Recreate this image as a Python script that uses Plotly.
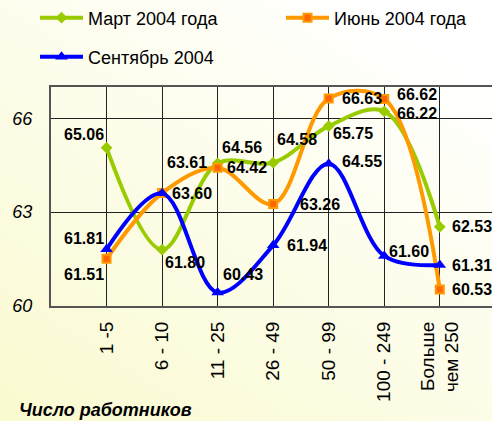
import base64
import plotly.graph_objects as go

categories = ["1 -5", "6 - 10", "11 - 25", "26 - 49", "50 - 99", "100 - 249", "Больше<br>чем 250"]
march = [65.06, 61.80, 64.56, 64.58, 65.75, 66.22, 62.53]
june = [61.51, 63.61, 64.42, 63.26, 66.63, 66.62, 60.53]
sept = [61.81, 63.60, 60.43, 61.94, 64.55, 61.60, 61.31]

# label offsets (px) for each point, per series
march_off = [(-23, 13), (23, -13), (24, 16), (24, 23), (24, -7), (33, -2), (32, 0)]
june_off = [(-23, -16), (25, 31), (29, 0), (47, 0), (33, 0), (33, 4), (32, 0)]
sept_off = [(-23, 11), (30, 0), (25, 18), (34, 0), (33, 2), (25, 4), (32, 0)]

FONT = "Arial, Liberation Sans, sans-serif"

svg = """<svg xmlns='http://www.w3.org/2000/svg' width='492' height='421'>
<defs><linearGradient id='g' x1='0' y1='1' x2='0.75' y2='0'>
<stop offset='0' stop-color='#FAFAD0'/><stop offset='1' stop-color='#FFFFFF'/>
</linearGradient></defs><rect width='492' height='421' fill='url(#g)'/></svg>"""
bg = "data:image/svg+xml;base64," + base64.b64encode(svg.encode()).decode()

x = list(range(len(categories)))
fig = go.Figure()
series = [
    ("Март 2004 года", march, "#99CC00", dict(symbol="diamond", size=9, color="#99CC00"), "legend"),
    ("Июнь 2004 года", june, "#FF9900", dict(symbol="square", size=8, color="#FF6600",
                                           line=dict(color="#FF9900", width=2)), "legend2"),
    ("Сентябрь 2004", sept, "#0000FF", dict(symbol="triangle-up", size=11, color="#0000FF"), "legend3"),
]
for name, vals, col, mk, lg in series:
    fig.add_trace(go.Scatter(x=x, y=vals, name=name, mode="lines+markers",
                             line=dict(color=col, width=4, shape="spline", smoothing=1),
                             marker=mk, legend=lg))

for vals, offs in [(march, march_off), (june, june_off), (sept, sept_off)]:
    for i, v in enumerate(vals):
        fig.add_annotation(x=i, y=v, text=f"{v:.2f}", showarrow=False,
                           xshift=offs[i][0], yshift=offs[i][1],
                           font=dict(family=FONT, size=16, color="black", weight="bold"))

fig.add_annotation(xref="paper", yref="paper", x=(17 - 51) / 441, y=(306 - 410) / 219,
                   xanchor="left", yanchor="middle", showarrow=False,
                   text="<b><i>Число работников</i></b>",
                   font=dict(family=FONT, size=18, color="black"))

leg = dict(orientation="h", xref="container", yref="container", xanchor="left",
           yanchor="middle", bgcolor="rgba(0,0,0,0)", itemwidth=43,
           font=dict(family=FONT, size=18, color="black"))
fig.update_layout(
    width=492, height=421,
    margin=dict(l=51, r=0, t=87, b=115),
    paper_bgcolor="white", plot_bgcolor="rgba(0,0,0,0)",
    legend=dict(leg, x=35 / 492, y=1 - 18 / 421),
    legend2=dict(leg, x=281 / 492, y=1 - 18 / 421),
    legend3=dict(leg, x=35 / 492, y=1 - 57 / 421),
    images=[dict(source=bg, xref="paper", yref="paper", x=-51 / 441, y=1 + 87 / 219,
                 sizex=492 / 441, sizey=421 / 219, sizing="stretch", layer="below")],
    xaxis=dict(range=[-1, 6.94], tickvals=x, ticktext=categories, tickangle=-90,
               showgrid=True, gridcolor="#222222", gridwidth=1, zeroline=False,
               showline=True, linecolor="#555555", linewidth=2, mirror=True,
               ticks="", ticklabelstandoff=6,
               tickfont=dict(family=FONT, size=19, color="black")),
    yaxis=dict(range=[60, 67], tickvals=[60, 63, 66], showgrid=True, gridcolor="#222222",
               gridwidth=1, zeroline=False, showline=True, linecolor="#555555", linewidth=2,
               ticks="", ticklabelstandoff=13,
               tickfont=dict(family=FONT, size=18, color="black", style="italic")),
    showlegend=True,
)

fig.write_html("out.html", config={"displayModeBar": False},
               post_script="document.body.style.margin='0px';")
